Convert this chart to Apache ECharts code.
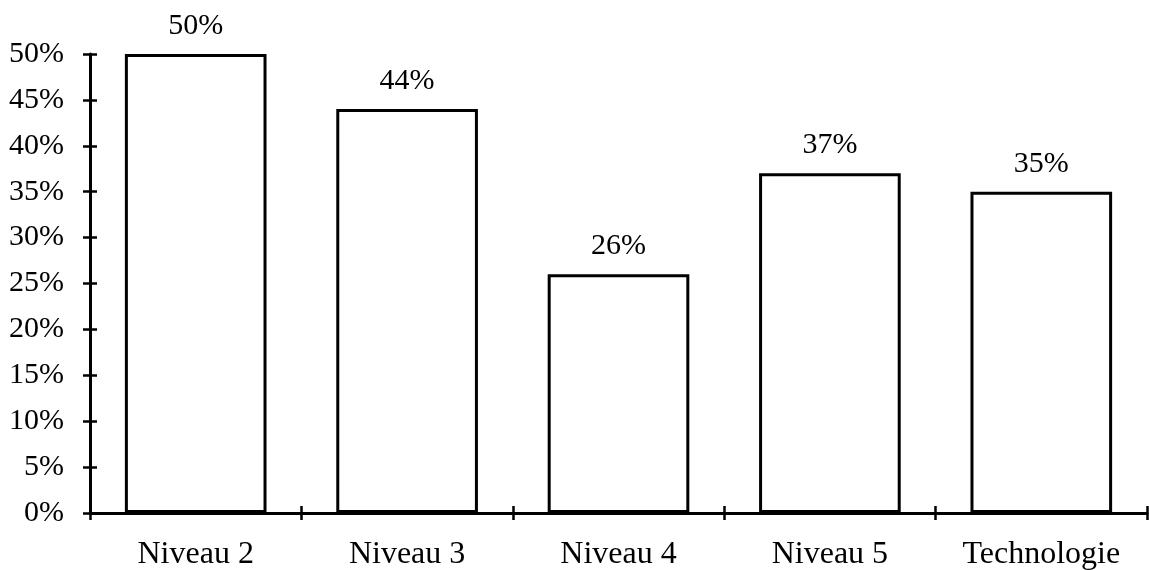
<!DOCTYPE html>
<html>
<head>
<meta charset="utf-8">
<script src="https://cdn.jsdelivr.net/npm/echarts@6/dist/echarts.min.js"></script>
<style>
  html, body { margin: 0; padding: 0; background: #fff; }
  #chart { width: 1149px; height: 570px; }
</style>
</head>
<body>
<div id="chart"></div>
<script>
const categories = ['Niveau 2', 'Niveau 3', 'Niveau 4', 'Niveau 5', 'Technologie'];
const shares = [50, 44, 26, 37, 35];

const font = '"Liberation Serif", "Times New Roman", serif';
const chart = echarts.init(document.getElementById('chart'));

chart.setOption({
    animation: false,
    textStyle: {fontFamily: font},
    grid: {left: 90, right: 2, top: 54, bottom: 57, outerBoundsMode: 'none'},
    xAxis: [{
        type: 'category',
        data: categories,
        axisLine: {lineStyle: {color: '#000', width: 3}},
        axisTick: {show: true, length: 7, lineStyle: {color: '#000', width: 2.5}},
        axisLabel: {color: '#000', fontSize: 32, fontFamily: font, margin: 26}
    }, {
        // inner half of the crossing ticks
        type: 'category',
        data: categories,
        position: 'bottom',
        axisLine: {show: false},
        axisTick: {show: true, inside: true, length: 7, lineStyle: {color: '#000', width: 2.5}},
        axisLabel: {show: false}
    }],
    yAxis: [{
        type: 'value',
        min: 0,
        max: 50,
        interval: 5,
        axisLine: {show: true, lineStyle: {color: '#000', width: 3}},
        axisTick: {show: true, length: 7, lineStyle: {color: '#000', width: 2.5}},
        splitLine: {show: false},
        axisLabel: {color: '#000', fontSize: 30, fontFamily: font, margin: 26, formatter: '{value}%'}
    }, {
        type: 'value',
        position: 'left',
        min: 0,
        max: 50,
        interval: 5,
        axisLine: {show: false},
        axisTick: {show: true, inside: true, length: 7, lineStyle: {color: '#000', width: 2.5}},
        splitLine: {show: false},
        axisLabel: {show: false}
    }],
    series: [{
        type: 'bar',
        data: shares,
        barWidth: '67%',
        itemStyle: {color: '#fff', borderColor: '#000', borderWidth: 3},
        label: {
            show: true,
            position: 'top',
            distance: 13,
            color: '#000',
            fontSize: 30,
            fontFamily: font,
            formatter: '{c}%'
        }
    }]
});
</script>
</body>
</html>
